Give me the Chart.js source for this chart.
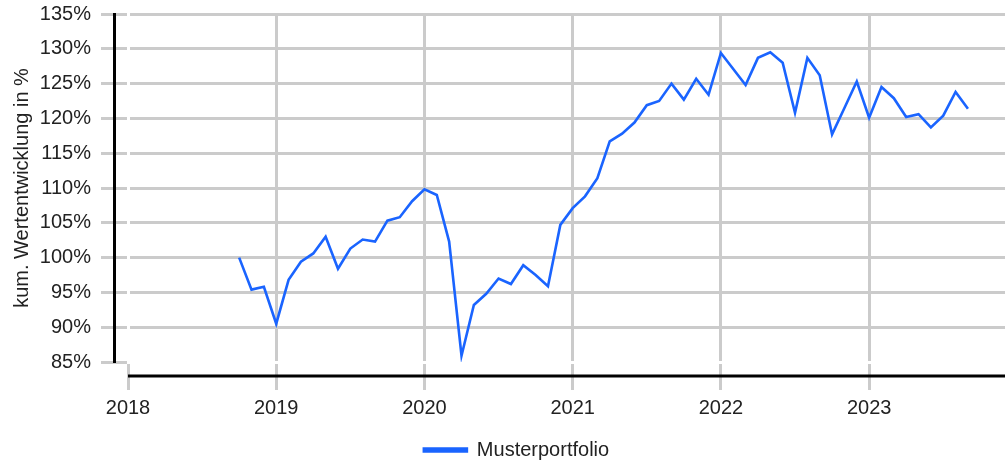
<!DOCTYPE html>
<html>
<head>
<meta charset="utf-8">
<script src="https://cdn.jsdelivr.net/npm/chart.js@4.4.1/dist/chart.umd.min.js"></script>
<style>
  html, body { margin: 0; padding: 0; background: #fff; }
  #wrap { width: 1006px; height: 466px; }
</style>
</head>
<body>
<div id="wrap"><canvas id="perf-chart" width="1006" height="466"></canvas></div>
<script>
// monthly closing values of the model portfolio (start = 100%)
var seriesLabel = 'Musterportfolio';
var months = [
  '2018-10','2018-11','2018-12',
  '2019-01','2019-02','2019-03','2019-04','2019-05','2019-06','2019-07','2019-08','2019-09','2019-10','2019-11','2019-12',
  '2020-01','2020-02','2020-03','2020-04','2020-05','2020-06','2020-07','2020-08','2020-09','2020-10','2020-11','2020-12',
  '2021-01','2021-02','2021-03','2021-04','2021-05','2021-06','2021-07','2021-08','2021-09','2021-10','2021-11','2021-12',
  '2022-01','2022-02','2022-03','2022-04','2022-05','2022-06','2022-07','2022-08','2022-09','2022-10','2022-11','2022-12',
  '2023-01','2023-02','2023-03','2023-04','2023-05','2023-06','2023-07','2023-08','2023-09'
];
var values = [
  100.0, 95.4, 95.8,
  90.5, 96.8, 99.4, 100.6, 103.0, 98.4, 101.3, 102.6, 102.3, 105.3, 105.8, 108.1,
  109.8, 109.0, 102.3, 85.9, 93.2, 94.8, 97.0, 96.2, 98.9, 97.5, 95.9, 104.7,
  107.1, 108.8, 111.4, 116.7, 117.8, 119.4, 121.9, 122.5, 125.0, 122.7, 125.7, 123.4,
  129.4, 127.1, 124.8, 128.7, 129.5, 128.0, 120.8, 128.7, 126.2, 117.7, 121.5, 125.3,
  120.1, 124.5, 122.9, 120.2, 120.6, 118.7, 120.4, 123.8, 121.4
];
var yearTicks = [2018, 2019, 2020, 2021, 2022, 2023];
var yMin = 85, yMax = 135, yStep = 5;
var xMin = 2018, xMax = 2023 + 11 / 12;
var yTitle = 'kum. Wertentwicklung in %';

var lineColor = '#1a64ff';
var gridColor = '#cbcbcb';
var textColor = '#222';

function toYear(m) {
  var p = m.split('-');
  return +p[0] + (p[1] - 1) / 12;
}

var points = months.map(function (m, i) { return { x: toYear(m), y: values[i] }; });

// black axis lines sit in the middle of the tick strip, offset from the plot area
var offsetAxes = {
  id: 'offsetAxes',
  afterDraw: function (chart) {
    var ctx = chart.ctx, x = chart.scales.x, y = chart.scales.y;
    var ax = y.right - y.options.grid.tickLength / 2;
    var ay = x.top + x.options.grid.tickLength / 2;
    ctx.save();
    ctx.strokeStyle = '#000';
    ctx.lineWidth = 3;
    ctx.beginPath();
    ctx.moveTo(ax, y.getPixelForValue(yMax) - 1);
    ctx.lineTo(ax, y.getPixelForValue(yMin) + 1);
    ctx.moveTo(x.getPixelForValue(xMin), ay);
    ctx.lineTo(x.right, ay);
    ctx.stroke();
    ctx.restore();
  }
};

Chart.defaults.font.family = '"Liberation Sans", Arial, sans-serif';
Chart.defaults.font.size = 20;
Chart.defaults.color = textColor;

new Chart(document.getElementById('perf-chart'), {
  type: 'line',
  data: {
    datasets: [{
      label: seriesLabel,
      data: points,
      borderColor: lineColor,
      backgroundColor: lineColor,
      borderWidth: 2.6,
      pointRadius: 0,
      tension: 0,
      fill: false
    }]
  },
  options: {
    responsive: false,
    animation: false,
    layout: { padding: { top: 14, right: 1, bottom: -4, left: 28 } },
    plugins: {
      legend: {
        position: 'bottom',
        labels: { boxWidth: 43, boxHeight: 3, padding: 1, color: textColor }
      },
      tooltip: { enabled: false }
    },
    scales: {
      x: {
        type: 'linear',
        min: xMin,
        max: xMax,
        afterFit: function (s) { s.height = 77; },
        afterBuildTicks: function (s) {
          s.ticks = yearTicks.map(function (v) { return { value: v }; });
        },
        ticks: {
          includeBounds: false,
          padding: 6,
          color: textColor,
          callback: function (v) { return String(v); }
        },
        grid: {
          lineWidth: 3,
          tickLength: 28,
          color: function (c) { return c.tick && c.tick.value === xMin ? 'rgba(0,0,0,0)' : gridColor; },
          tickColor: gridColor
        },
        border: { display: true, width: 3, color: 'rgba(0,0,0,0)' }
      },
      y: {
        min: yMin,
        max: yMax,
        afterFit: function (s) {
          s.width = 100;
          s.paddingTop = 0;
          s.paddingBottom = 0;
        },
        ticks: {
          stepSize: yStep,
          padding: 10,
          color: textColor,
          callback: function (v) { return v + '%'; }
        },
        grid: {
          lineWidth: 3,
          tickLength: 27,
          color: function (c) { return c.tick && c.tick.value === yMin ? 'rgba(0,0,0,0)' : gridColor; },
          tickColor: gridColor
        },
        border: { display: true, width: 3, color: 'rgba(0,0,0,0)' },
        title: {
          display: true,
          text: yTitle,
          color: textColor,
          font: { size: 20 },
          padding: { top: -18, bottom: 0 }
        }
      }
    }
  },
  plugins: [offsetAxes]
});
</script>
</body>
</html>
